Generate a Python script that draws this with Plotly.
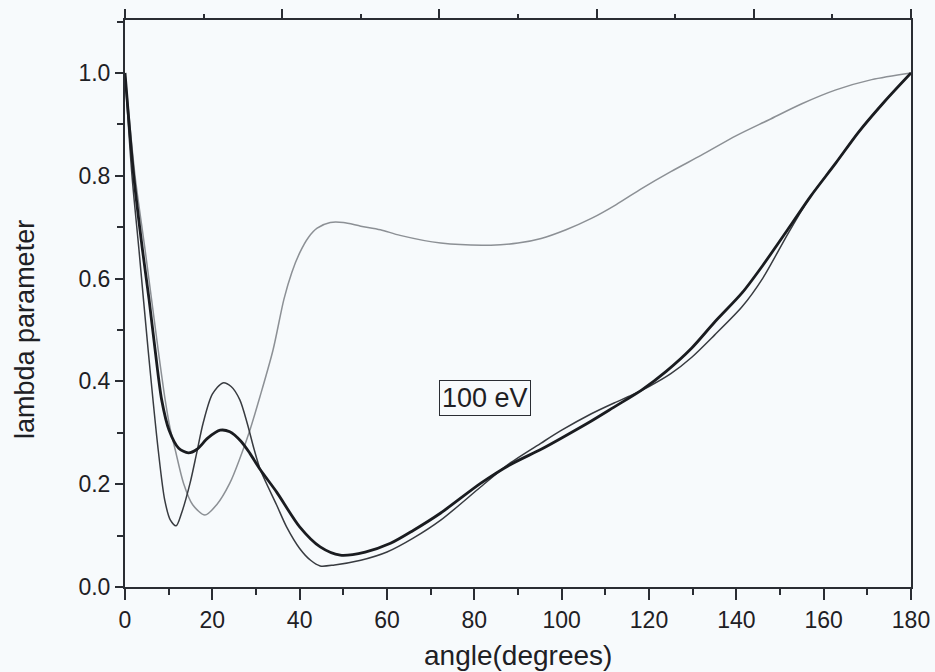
import plotly.graph_objects as go

# Thick black curve
thick_x = [0, 2.0, 4.0, 5.5, 6.9, 8.4, 10.1, 12.3, 14.5, 16.5, 19, 21.8, 24, 26.5, 28.6, 31, 34.7, 40, 44.7, 49.3,
           55, 60.8, 66, 72.3, 81.5, 88, 95.3, 100, 106.8, 112, 118.3, 124, 129.8, 135, 141.3, 146, 152.8, 157, 162.8, 168, 174, 180]
thick_y = [1.0, 0.8, 0.656, 0.56, 0.461, 0.364, 0.305, 0.27, 0.261, 0.268, 0.29, 0.305, 0.302, 0.284, 0.26, 0.228, 0.185, 0.117, 0.078, 0.062,
           0.068, 0.085, 0.11, 0.144, 0.202, 0.237, 0.268, 0.29, 0.323, 0.35, 0.383, 0.42, 0.465, 0.515, 0.572, 0.625, 0.708, 0.76, 0.825, 0.885, 0.945, 1.0]

# Thin dark curve
thin_x = [0, 1.6, 3.2, 5.3, 7.6, 9.1, 10.4, 11.7, 13, 14.9, 16.4, 17.9, 20, 22.4, 24.3, 26.3, 28, 29.5, 31, 34.7, 37, 40, 42.5, 44.7, 48, 54, 60,
          66, 72.3, 81.5, 88, 95.3, 100, 106.8, 112, 116, 120, 125, 129.8, 135, 141.3, 146, 152, 157, 162.8, 168, 174, 180]
thin_y = [1.0, 0.8, 0.656, 0.461, 0.267, 0.169, 0.13, 0.119, 0.145, 0.202, 0.26, 0.319, 0.375, 0.397, 0.39, 0.364, 0.318, 0.27, 0.228, 0.16, 0.117, 0.075, 0.052, 0.041, 0.043, 0.052, 0.068,
          0.095, 0.13, 0.195, 0.24, 0.28, 0.305, 0.337, 0.358, 0.373, 0.39, 0.415, 0.447, 0.49, 0.545, 0.60, 0.69, 0.76, 0.825, 0.885, 0.945, 1.0]

# Light gray curve
gray_x = [0, 2.3, 4.6, 7.6, 9.2, 10.3, 11.5, 13.4, 15.5, 18.3, 21, 24, 26.3, 28.6, 30.9, 33.9, 36.4, 38.2, 40, 42, 44, 47, 50,
          54, 58.5, 63, 72.3, 83.8, 90, 95.3, 101, 106.8, 112.5, 118.3, 125, 132, 140, 147.5, 155, 162.8, 171, 180]
gray_y = [1.0, 0.8, 0.656, 0.461, 0.364, 0.31, 0.267, 0.202, 0.16, 0.14, 0.16, 0.202, 0.25, 0.305, 0.37, 0.461, 0.56, 0.612, 0.65, 0.68, 0.698, 0.709, 0.709,
          0.702, 0.695, 0.684, 0.669, 0.665, 0.669, 0.678, 0.695, 0.717, 0.744, 0.775, 0.808, 0.84, 0.878, 0.909, 0.94, 0.967, 0.987, 1.0]

x_ticks = [0, 20, 40, 60, 80, 100, 120, 140, 160, 180]
y_ticks = [0.0, 0.2, 0.4, 0.6, 0.8, 1.0]
y_ticklabels = ["0.0", "0.2", "0.4", "0.6", "0.8", "1.0"]
label_text = "100 eV"
x_title = "angle(degrees)"
y_title = "lambda parameter"

fig = go.Figure()
fig.add_trace(go.Scatter(x=gray_x, y=gray_y, mode="lines", line=dict(color="#8c9095", width=1.5, shape="spline", smoothing=0.8), showlegend=False))
fig.add_trace(go.Scatter(x=thin_x, y=thin_y, mode="lines", line=dict(color="#383b40", width=1.5, shape="spline", smoothing=0.8), showlegend=False))
fig.add_trace(go.Scatter(x=thick_x, y=thick_y, mode="lines", line=dict(color="#1a1c20", width=2.8, shape="spline", smoothing=0.8), showlegend=False))
# dummy trace for top axis
fig.add_trace(go.Scatter(x=[0, 180], y=[None, None], xaxis="x2", mode="lines", showlegend=False, hoverinfo="skip"))

axis_color = "#2a2d33"
font_family = "Liberation Sans, Arial, sans-serif"

fig.update_layout(
    width=935, height=672,
    margin=dict(l=125, r=24, t=20, b=85),
    paper_bgcolor="#f7fafc", plot_bgcolor="#f7fafc",
    font=dict(family=font_family, color="#1e2024"),
    xaxis=dict(range=[0, 180], tickvals=x_ticks, ticks="outside", ticklen=11, tickwidth=2, tickcolor=axis_color,
               minor=dict(dtick=10, ticks="outside", ticklen=6, tickwidth=2, tickcolor=axis_color),
               showline=True, linecolor=axis_color, linewidth=2, mirror=True, showgrid=False, zeroline=False,
               tickfont=dict(size=23), automargin=False),
    xaxis2=dict(range=[0, 180], overlaying="x", side="top", dtick=36, ticks="outside", ticklen=10, tickwidth=2,
                tickcolor=axis_color, showticklabels=False, showgrid=False, zeroline=False, automargin=False,
                minor=dict(dtick=18, ticks="outside", ticklen=5, tickwidth=2, tickcolor=axis_color)),
    yaxis=dict(range=[0, 1.103], tickvals=y_ticks, ticktext=y_ticklabels, ticks="outside", ticklen=8, tickwidth=2,
               tickcolor=axis_color, minor=dict(dtick=0.1, ticks="outside", ticklen=6, tickwidth=2, tickcolor=axis_color),
               showline=True, linecolor=axis_color, linewidth=2, mirror=True, showgrid=False, zeroline=False,
               tickfont=dict(size=23), automargin=False),
    annotations=[
        dict(x=82.4, y=0.368, xref="x", yref="y", text=label_text, showarrow=False,
             font=dict(size=27, color="#1e2024"), bordercolor="#2a2d33", borderwidth=1, borderpad=2,
             bgcolor="rgba(0,0,0,0)"),
        dict(x=90, y=0, xref="x", yref="paper", text=x_title, showarrow=False, yanchor="middle",
             yshift=-68, font=dict(size=28, color="#1e2024")),
        dict(x=0, y=0.5, xref="paper", yref="y", text=y_title, showarrow=False, textangle=-90,
             xanchor="center", xshift=-100, font=dict(size=27, color="#1e2024")),
    ],
)

fig.write_html("out.html")
